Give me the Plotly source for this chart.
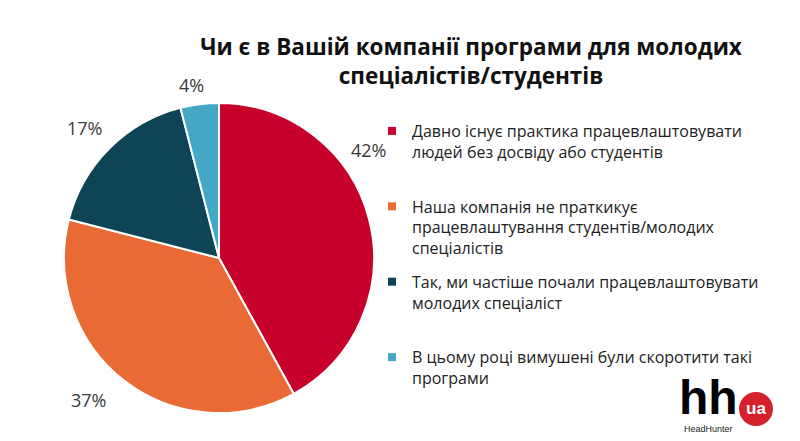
import plotly.graph_objects as go

labels = [
    "Давно існує практика працевлаштовувати<br>людей без досвіду або студентів<br> ",
    "Наша компанія не праткикує<br>працевлаштування студентів/молодих<br>спеціалістів",
    "Так, ми частіше почали працевлаштовувати<br>молодих спеціаліст<br> ",
    "В цьому році вимушені були скоротити такі<br>програми",
]
values = [42, 37, 17, 4]
colors = ["#C8002C", "#E96A35", "#0D4456", "#45A7C6"]
title_text = "Чи є в Вашій компанії програми для молодих<br>спеціалістів/студентів"

# layout: where each percentage label sits (page pixels from top-left)
label_pos = [(368, 150), (88, 400), (84, 128), (191, 85)]

W, H = 800, 441
OFF = 8  # the page body margin that shifts the figure inside the window
FONT = "Open Sans"


def fx(x):
    return (x - OFF) / W


def fy(y):
    return 1 - (y - OFF) / H


fig = go.Figure()
fig.add_trace(go.Pie(
    labels=labels,
    values=values,
    marker=dict(colors=colors, line=dict(color="white", width=2)),
    sort=False,
    direction="clockwise",
    rotation=0,
    textinfo="none",
    hoverinfo="label+percent",
    showlegend=False,
    domain=dict(x=[fx(64), fx(374)], y=[fy(413), fy(103)]),
))

# legend entries (one per slice), drawn by plotly's legend
for i, (lab, col) in enumerate(zip(labels, colors)):
    fig.add_trace(go.Scatter(
        x=[None], y=[None], mode="markers", name=lab,
        marker=dict(symbol="square", size=8, color=col),
        legendgroup=f"g{i}", showlegend=True, hoverinfo="skip",
    ))

# percentage labels
for v, (px, py) in zip(values, label_pos):
    fig.add_annotation(
        x=fx(px), y=fy(py), xref="paper", yref="paper",
        text=f"{v}%", showarrow=False,
        font=dict(family=FONT, size=18, color="#3a3a3a"),
        xanchor="center", yanchor="middle",
    )

fig.update_layout(
    width=W, height=H,
    margin=dict(l=0, r=0, t=0, b=0),
    paper_bgcolor="white",
    plot_bgcolor="white",
    font=dict(family=FONT, color="#222222"),
    xaxis=dict(visible=False),
    yaxis=dict(visible=False),
    title=dict(
        text="<b>" + title_text + "</b>",
        x=fx(471), xanchor="center",
        y=fy(55), yanchor="top",
        font=dict(family=FONT, size=22.5, color="#111111"),
    ),
    legend=dict(
        x=fx(372), xanchor="left",
        y=fy(114), yanchor="top",
        font=dict(family=FONT, size=16, color="#222222"),
        valign="top",
        tracegroupgap=10,
        bgcolor="rgba(0,0,0,0)",
    ),
    showlegend=True,
)

# HeadHunter logo
fig.add_annotation(
    x=fx(708), y=fy(397), xref="paper", yref="paper",
    text="<b>hh</b>", showarrow=False,
    font=dict(family="Liberation Sans", size=48, color="black"),
    xanchor="center", yanchor="middle",
)
fig.add_shape(
    type="circle", xref="paper", yref="paper",
    x0=fx(739), x1=fx(773), y0=fy(426), y1=fy(392),
    fillcolor="#D6202B", line=dict(width=0),
)
fig.add_annotation(
    x=fx(756), y=fy(408), xref="paper", yref="paper",
    text="<b>ua</b>", showarrow=False,
    font=dict(family="Liberation Sans", size=17, color="white"),
    xanchor="center", yanchor="middle",
)
fig.add_annotation(
    x=fx(708), y=fy(429), xref="paper", yref="paper",
    text="HeadHunter", showarrow=False,
    font=dict(family="Liberation Sans", size=9, color="#222222"),
    xanchor="center", yanchor="middle",
)

fig.write_html("out.html")
